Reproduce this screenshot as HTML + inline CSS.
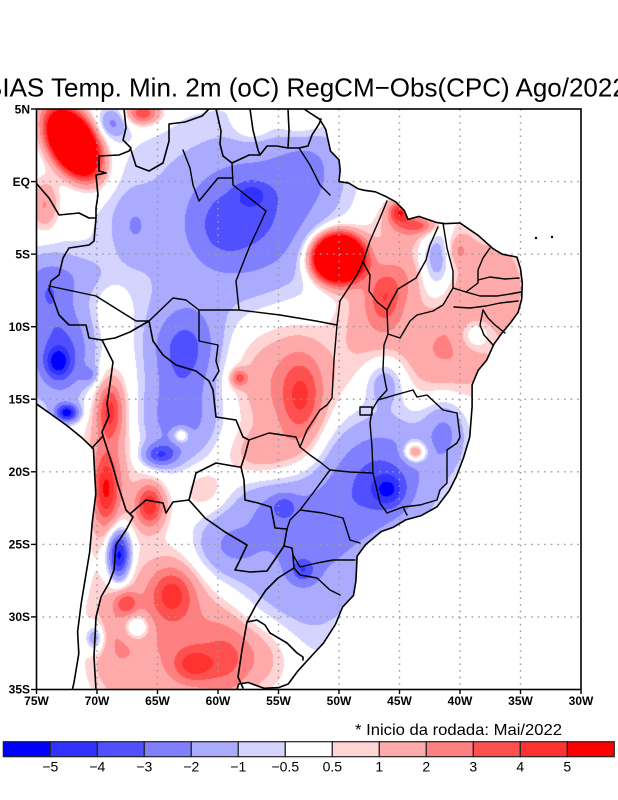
<!DOCTYPE html>
<html><head><meta charset="utf-8">
<style>
html,body{margin:0;padding:0;background:#fff;}
#wrap{position:relative;width:618px;height:800px;overflow:hidden;background:#fff;}
canvas,svg{position:absolute;left:0;top:0;}
text{font-family:"Liberation Sans",Arial,sans-serif;}
</style></head>
<body>
<div id="wrap">
<canvas id="c" width="618" height="800"></canvas>
<svg id="s" width="618" height="800" viewBox="0 0 618 800" xmlns="http://www.w3.org/2000/svg">
<defs><clipPath id="pc"><rect x="36.5" y="109" width="544.5" height="580.5"/></clipPath></defs>
<g clip-path="url(#pc)" stroke="#9a9a9a" stroke-width="1.4" stroke-dasharray="1.6 5" fill="none">
<line x1="97" y1="109" x2="97" y2="690"/><line x1="157.5" y1="109" x2="157.5" y2="690"/>
<line x1="218" y1="109" x2="218" y2="690"/><line x1="278.5" y1="109" x2="278.5" y2="690"/>
<line x1="339" y1="109" x2="339" y2="690"/><line x1="399.5" y1="109" x2="399.5" y2="690"/>
<line x1="460" y1="109" x2="460" y2="690"/><line x1="520.5" y1="109" x2="520.5" y2="690"/>
<line x1="36" y1="181.6" x2="581" y2="181.6"/><line x1="36" y1="254.1" x2="581" y2="254.1"/>
<line x1="36" y1="326.7" x2="581" y2="326.7"/><line x1="36" y1="399.2" x2="581" y2="399.2"/>
<line x1="36" y1="471.8" x2="581" y2="471.8"/><line x1="36" y1="544.4" x2="581" y2="544.4"/>
<line x1="36" y1="616.9" x2="581" y2="616.9"/>
</g>
<g clip-path="url(#pc)" stroke="#000" stroke-width="1.6" fill="none" stroke-linejoin="round" stroke-linecap="round">
<path id="coast" d=""/>
<polyline points="36,183 49,198 59,215 79,213 89,218 96,218"/>
<polyline points="124,109 126,128 123,140 131,148 129,151 119,155 99,156 99,171 106,173 96,175 98,195 96,208 96,218 94,241 89,245 69,248 63,258 59,275 51,281 49,290 53,298 59,315 69,325 86,325 89,338 102,340"/>
<polyline points="131,150 136,166 149,171 163,163 169,141 169,124 185,122 202,116 209,109"/>
<polyline points="216,109 221,131 220,144 223,156 232,163 249,155 260,155 267,146 277,146 288,148 299,148 308,146 312,135 319,124 321,119"/>
<polyline points="250,109 253,130 258,150 260,155"/>
<polyline points="288,109 289,130 288,148"/>
<polyline points="102,340 113,362 110,384 107,404 109,416 102,432 103,436 92,448"/>
<polyline points="103,436 113,467 118,485 126,510 133,517 126,530 116,545 114,570 109,583 101,597 96,617 94,657 96,690"/>
<polyline points="131,513 146,500 163,503 166,513 173,502 189,500"/>
<polyline points="102,340 115,338 130,332 149,321 153,341 163,355 176,365 196,371 209,381 213,390 216,417 236,420 243,437 249,440 245,455 241,467"/>
<polyline points="189,500 196,473 216,463 239,467 241,467"/>
<polyline points="241,467 244,480 245,500 258,503 271,507 275,528 287,529 284,546"/>
<polyline points="189,500 205,518 225,532 247,545 240,560 235,570 250,572 267,571 284,546"/>
<polyline points="284,546 292,548 293,555 294,568 278,578 266,590 256,605 247,622"/>
<polyline points="247,622 257,620 265,625 270,633 287,643 297,653 303,657 303,660"/>
<polyline points="247,622 242,650 238,677 243,688"/>
</g>
<g clip-path="url(#pc)" stroke="#000" stroke-width="1.4" fill="none" stroke-linejoin="round" stroke-linecap="round">
<polyline points="49,286 96,296 136,321 149,321"/>
<polyline points="149,321 173,298 186,300 199,310"/>
<polyline points="199,310 199,341 218,345 216,361 219,371 213,381"/>
<polyline points="199,310 239,310"/>
<polyline points="232,163 233,185 266,211 249,248 236,281 239,310"/>
<polyline points="183,150 190,168 193,185 199,201 218,178 233,178"/>
<polyline points="239,310 280,315 316,321 337,325"/>
<polyline points="337,325 334,360 332,398 327,405 320,410 307,430 300,447"/>
<polyline points="337,325 340,301 357,275 363,262"/>
<polyline points="363,262 370,241 380,218 387,201"/>
<polyline points="299,148 310,165 320,185 330,195"/>
<polyline points="363,262 370,275 369,291 377,302 387,310"/>
<polyline points="438,227 430,245 426,260 416,278 398,289 392,300 387,310 388,334"/>
<polyline points="388,334 384,345 383,370 386,386 387,390 378,400"/>
<polyline points="388,334 400,338 410,321 417,315 433,311 443,305 453,288"/>
<polyline points="443,223 447,248 453,271 453,288"/>
<polyline points="490,248 483,258 478,270 478,280"/>
<polyline points="453,288 466,292 478,283 478,280"/>
<polyline points="478,280 490,277 505,279 519,278"/>
<polyline points="466,292 480,296 497,296 510,294 521,292"/>
<polyline points="454,307 470,308 486,306 500,303 518,301"/>
<polyline points="505,333 495,325 488,318 483,310"/>
<polyline points="493,345 484,335 480,325 483,310"/>
<polyline points="378,400 395,395 413,390 417,397 427,395 443,410 457,413"/>
<polyline points="457,413 460,437 457,443 447,450 447,483 440,490"/>
<polyline points="440,490 437,500 420,505 403,507 387,513"/>
<polyline points="387,513 380,503 377,490 373,473 350,472 330,470"/>
<polyline points="373,473 372,447 370,423 372,410 378,400"/>
<polyline points="360,407 372,407 372,415 360,415 360,407"/>
<polyline points="300,447 310,455 320,462 330,470"/>
<polyline points="330,470 313,493 300,510"/>
<polyline points="249,440 269,433 296,437 300,447"/>
<polyline points="300,510 323,513 343,518 350,540 360,543"/>
<polyline points="300,510 290,520 287,529"/>
<polyline points="293,555 300,567 317,563 333,560 355,560"/>
<polyline points="294,568 300,575 317,578 330,590 340,595"/>
<polyline points="403,507 407,515"/>
</g>
<circle cx="536" cy="238" r="1.2" fill="#000"/><circle cx="552" cy="237" r="1.2" fill="#000"/>
<rect x="36.5" y="109" width="544.5" height="580.5" fill="none" stroke="#000" stroke-width="1.6"/>
<g stroke="#000" stroke-width="1.4">
<line x1="31" y1="109" x2="36.5" y2="109"/><line x1="31" y1="181.6" x2="36.5" y2="181.6"/>
<line x1="31" y1="254.1" x2="36.5" y2="254.1"/><line x1="31" y1="326.7" x2="36.5" y2="326.7"/>
<line x1="31" y1="399.2" x2="36.5" y2="399.2"/><line x1="31" y1="471.8" x2="36.5" y2="471.8"/>
<line x1="31" y1="544.4" x2="36.5" y2="544.4"/><line x1="31" y1="616.9" x2="36.5" y2="616.9"/>
<line x1="31" y1="689.5" x2="36.5" y2="689.5"/>
<line x1="36.5" y1="689.5" x2="36.5" y2="694"/><line x1="97" y1="689.5" x2="97" y2="694"/>
<line x1="157.5" y1="689.5" x2="157.5" y2="694"/><line x1="218" y1="689.5" x2="218" y2="694"/>
<line x1="278.5" y1="689.5" x2="278.5" y2="694"/><line x1="339" y1="689.5" x2="339" y2="694"/>
<line x1="399.5" y1="689.5" x2="399.5" y2="694"/><line x1="460" y1="689.5" x2="460" y2="694"/>
<line x1="520.5" y1="689.5" x2="520.5" y2="694"/><line x1="581" y1="689.5" x2="581" y2="694"/>
</g>
<g font-size="12" font-weight="bold" fill="#000" text-anchor="end">
<text x="30" y="113.5">5N</text><text x="30" y="186">EQ</text><text x="30" y="258.5">5S</text>
<text x="30" y="331">10S</text><text x="30" y="403.5">15S</text><text x="30" y="476">20S</text>
<text x="30" y="548.5">25S</text><text x="30" y="621">30S</text><text x="30" y="693.5">35S</text>
</g>
<g font-size="12" font-weight="bold" fill="#000" text-anchor="middle">
<text x="36.5" y="705">75W</text><text x="97" y="705">70W</text><text x="157.5" y="705">65W</text>
<text x="218" y="705">60W</text><text x="278.5" y="705">55W</text><text x="339" y="705">50W</text>
<text x="399.5" y="705">45W</text><text x="460" y="705">40W</text><text x="520.5" y="705">35W</text>
<text x="581" y="705">30W</text>
</g>
<text x="-15" y="96.7" font-size="26" fill="#000">BIAS Temp. Min. 2m (oC) RegCM−Obs(CPC) Ago/2022</text>
<text x="355" y="735" font-size="16" fill="#000" textLength="207" lengthAdjust="spacingAndGlyphs">* Inicio da rodada: Mai/2022</text>
<g stroke="#222" stroke-width="1.2">
<rect x="3.3" y="741.7" width="47" height="15" fill="#0000ff"/>
<rect x="50.3" y="741.7" width="47" height="15" fill="#3232ff"/>
<rect x="97.3" y="741.7" width="47" height="15" fill="#5050ff"/>
<rect x="144.3" y="741.7" width="47" height="15" fill="#8080ff"/>
<rect x="191.3" y="741.7" width="47" height="15" fill="#aaaaff"/>
<rect x="238.3" y="741.7" width="47" height="15" fill="#d4d4ff"/>
<rect x="285.3" y="741.7" width="47" height="15" fill="#ffffff"/>
<rect x="332.3" y="741.7" width="47" height="15" fill="#ffd4d4"/>
<rect x="379.3" y="741.7" width="47" height="15" fill="#ffaaaa"/>
<rect x="426.3" y="741.7" width="47" height="15" fill="#ff8080"/>
<rect x="473.3" y="741.7" width="47" height="15" fill="#ff5050"/>
<rect x="520.3" y="741.7" width="47" height="15" fill="#ff3232"/>
<rect x="567.3" y="741.7" width="47" height="15" fill="#ff0000"/>
</g>
<g font-size="14" fill="#000" text-anchor="middle">
<text x="50.3" y="771.5">−5</text><text x="97.3" y="771.5">−4</text><text x="144.3" y="771.5">−3</text>
<text x="191.3" y="771.5">−2</text><text x="238.3" y="771.5">−1</text><text x="285.3" y="771.5">−0.5</text>
<text x="332.3" y="771.5">0.5</text><text x="379.3" y="771.5">1</text><text x="426.3" y="771.5">2</text>
<text x="473.3" y="771.5">3</text><text x="520.3" y="771.5">4</text><text x="567.3" y="771.5">5</text>
</g>
</svg>
</div>
<script>
(function(){
const P=(lon,lat)=>[36.5+(lon+75)*12.1,109+(5-lat)*14.52];
const coastN=[[-52.9,5],[-51.6,4.3],[-51.1,3.6],[-50.7,2.1],[-50.0,1.5],[-49.9,0.8],[-50.0,0.0],[-49.2,-0.1],[-48.4,-0.5],[-47.9,-0.6],[-47.0,-0.7],[-46.2,-1.0],[-45.3,-1.4],[-44.6,-2.0],[-44.3,-2.6],[-43.4,-2.4],[-42.0,-2.8],[-41.3,-2.9],[-40.0,-2.85],[-38.5,-3.7],[-37.3,-4.6],[-36.5,-5.0],[-35.3,-5.2],[-35.0,-6.0],[-34.85,-7.0],[-34.9,-8.1],[-35.2,-9.0],[-35.8,-9.7],[-36.6,-10.5],[-37.2,-11.2],[-37.8,-12.3],[-38.5,-13.0],[-39.0,-14.0],[-39.0,-15.5],[-39.2,-17.6],[-39.7,-19.0],[-40.3,-20.3],[-40.9,-21.3],[-41.9,-22.4],[-43.2,-23.0],[-44.5,-23.3],[-45.5,-23.8],[-46.5,-24.1],[-47.8,-25.0],[-48.5,-25.8],[-48.6,-27.5],[-48.8,-28.5],[-49.7,-29.3],[-50.3,-30.5],[-51.3,-31.8],[-52.2,-32.6],[-53.4,-33.7],[-54.2,-34.6],[-55.0,-34.85],[-56.2,-34.9],[-57.5,-34.5],[-58.3,-34.6],[-58.5,-35.2]];
const coastW=[[-72.1,-35.2],[-71.9,-34.5],[-71.7,-33.5],[-71.5,-32.5],[-71.6,-31],[-71.3,-29],[-70.9,-27],[-70.6,-25.5],[-70.4,-23.5],[-70.1,-21.5],[-70.2,-20],[-70.3,-18.4],[-71.3,-17.6],[-72.5,-16.8],[-74,-15.9],[-75.2,-15.2]];
const nP=coastN.map(p=>P(p[0],p[1])), wP=coastW.map(p=>P(p[0],p[1]));
const toD=a=>'M'+a.map(p=>p[0].toFixed(1)+','+p[1].toFixed(1)).join('L');
document.getElementById('coast').setAttribute('d',toD(nP)+' '+toD(wP));
const land=[P(-75.2,5.2)].concat(nP).concat(wP);
const B=[
[73,143,13,22,20,-30],[45,205,10,18,2.2,0],[143,113,12,8,4,0],[113,123,10,10,-2,0],
[215,235,85,80,-1.3,0],[250,215,45,45,-2.2,0],[252,195,10,8,-1.8,0],[222,228,15,18,-0.8,0],
[300,120,18,15,1.0,0],[252,125,12,10,1.2,0],[310,165,25,30,-1.5,0],[338,258,15,14,22,0],
[133,225,14,22,-1.2,0],[45,290,20,25,-2.2,0],[80,275,25,15,-0.8,0],[58,362,8,10,-3,0],
[62,355,25,35,-3.2,0],[112,312,12,22,0.6,0],[90,375,6,6,-1.5,0],[185,350,25,30,-3,0],
[180,420,30,30,-2.5,0],[160,455,12,8,-3.2,0],[181,435,6,6,2.4,0],[110,410,9,20,3.5,0],
[106,490,9,25,4,0],[110,450,20,70,1.5,0],[150,505,10,15,4.6,0],[119,555,8,18,-6,0],
[172,593,15,18,3,0],[193,665,14,12,2.8,0],[178,630,38,55,2.2,0],[225,660,18,30,2,0],
[115,645,20,40,1.5,0],[126,603,8,8,2.5,0],[95,638,7,10,-2.5,0],[137,627,9,9,-2.5,0],
[302,400,15,30,3,0],[280,380,40,45,2,0],[239,378,6,6,3,0],[385,297,12,20,2.5,0],
[370,310,25,50,1.5,0],[400,212,8,8,4,0],[410,225,22,15,1.8,0],[420,226,12,5,2,0],
[405,275,15,20,1.2,0],[437,258,12,28,-2.3,0],[475,290,35,50,1.5,0],[458,250,8,10,1.5,0],
[505,290,12,25,0.8,0],[475,335,12,12,-1.8,0],[440,355,35,35,1.7,0],[385,380,15,18,-2,0],
[380,475,40,42,-3,0],[388,490,11,11,-2.5,0],[415,452,8,7,3.5,0],[445,430,15,25,-2,0],
[300,560,50,60,-2.0,0],[303,570,8,8,-2,0],[284,507,8,8,-1.5,0],[335,525,30,30,-0.5,0],
[222,548,25,25,-1.8,0],[205,490,15,15,1.2,0],[258,655,25,25,1.6,0],[265,455,30,18,1.5,0],
[270,505,25,20,-1,0],[67,413,8,6,-5,0]];
const pre=B.map(b=>{const t=b[5]*Math.PI/180;return[b[0],b[1],1/(2*b[2]*b[2]),1/(2*b[3]*b[3]),b[4],Math.cos(t),Math.sin(t),Math.max(b[2],b[3])*4.5];});
const th=[-5,-4,-3,-2,-1,-0.5,0.5,1,2,3,4,5];
const cols=[[0,0,255],[50,50,255],[80,80,255],[128,128,255],[170,170,255],[212,212,255],[255,255,255],[255,212,212],[255,170,170],[255,128,128],[255,80,80],[255,50,50],[255,0,0]];
const x0=36,y0=108,w=546,h=583;
const off=document.createElement('canvas');off.width=w;off.height=h;
const oc=off.getContext('2d');const img=oc.createImageData(w,h);const d=img.data;
for(let j=0;j<h;j++){const Y=y0+j+0.5;for(let i=0;i<w;i++){const X=x0+i+0.5;let v=0;
for(let k=0;k<pre.length;k++){const p=pre[k];const dx=X-p[0],dy=Y-p[1];if(dx>p[7]||dx<-p[7]||dy>p[7]||dy<-p[7])continue;
const u=dx*p[5]+dy*p[6],q=-dx*p[6]+dy*p[5];v+=p[4]*Math.exp(-(u*u*p[2]+q*q*p[3]));}
let li=0;while(li<12&&v>=th[li])li++;const c=cols[li];const o=(j*w+i)*4;d[o]=c[0];d[o+1]=c[1];d[o+2]=c[2];d[o+3]=255;}}
oc.putImageData(img,0,0);
const cv=document.getElementById('c');const ctx=cv.getContext('2d');
ctx.fillStyle='#fff';ctx.fillRect(0,0,618,800);
ctx.save();ctx.beginPath();ctx.rect(36.5,109,544.5,580.5);ctx.clip();
ctx.beginPath();land.forEach((p,i)=>{if(i)ctx.lineTo(p[0],p[1]);else ctx.moveTo(p[0],p[1]);});ctx.closePath();ctx.clip();
ctx.drawImage(off,x0,y0);ctx.restore();
})();
</script>
</body></html>
